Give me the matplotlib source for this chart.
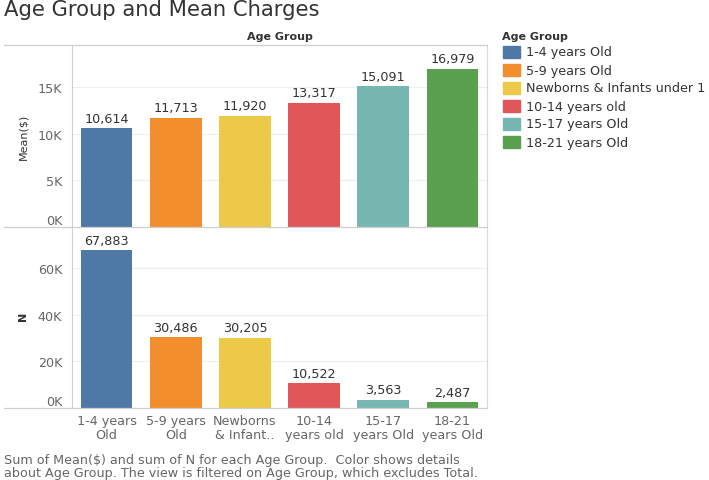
import matplotlib.pyplot as plt
from matplotlib.lines import Line2D
import numpy as np

plt.rcParams["font.family"] = ["DejaVu Sans"]

# data
groups = [
    "1-4 years Old",
    "5-9 years Old",
    "Newborns & Infants under 1",
    "10-14 years old",
    "15-17 years Old",
    "18-21 years Old",
]
tick_labels = [
    "1-4 years\nOld",
    "5-9 years\nOld",
    "Newborns\n& Infant..",
    "10-14\nyears old",
    "15-17\nyears Old",
    "18-21\nyears Old",
]
mean_charges = [10614, 11713, 11920, 13317, 15091, 16979]
n_counts = [67883, 30486, 30205, 10522, 3563, 2487]
colors = ["#4e79a7", "#f28e2b", "#edc948", "#e15759", "#76b7b2", "#59a14f"]

W, H = 709, 481
fig = plt.figure(figsize=(W / 100, H / 100), dpi=100)


def fx(px):
    return px / W


def fy(py):
    return 1 - py / H


TXT = "#333333"
AX = "#666666"
FS = 9.2

ax1 = fig.add_axes([fx(72), fy(228), fx(487) - fx(72), fy(46) - fy(228)])
ax2 = fig.add_axes([fx(72), fy(409), fx(487) - fx(72), fy(228) - fy(409)])

x = np.arange(len(groups))


def setup(ax, vals, ymax, ticks, ticklabels, fmt_pad):
    ax.bar(x, vals, width=0.745, color=colors, zorder=2)
    ax.set_xlim(-0.5, len(groups) - 0.5)
    ax.set_ylim(0, ymax)
    ax.set_yticks(ticks)
    ax.set_yticklabels(ticklabels, color=AX, fontsize=FS)
    ax.get_yticklabels()[0].set_va("bottom")
    ax.tick_params(axis="y", length=0, pad=7)
    ax.grid(axis="y", color="#ededed", linewidth=0.8, zorder=0)
    for s in ["top", "bottom"]:
        ax.spines[s].set_visible(False)
    ax.spines["left"].set_color("#cfcfcf")
    ax.spines["right"].set_color("#d9d9d9")
    for xi, v in zip(x, vals):
        ax.text(xi, v + fmt_pad, f"{v:,}", ha="center", va="bottom",
                fontsize=FS, color=TXT)


setup(ax1, mean_charges, 19500, [0, 5000, 10000, 15000],
      ["0K", "5K", "10K", "15K"], 350)
setup(ax2, n_counts, 77700, [0, 20000, 40000, 60000],
      ["0K", "20K", "40K", "60K"], 1400)

ax1.set_xticks([])
ax2.set_xticks(x)
ax2.set_xticklabels(tick_labels, color=AX, fontsize=FS, linespacing=1.15)
ax2.tick_params(axis="x", length=0, pad=4)

# frame lines across the full view
for py in [46, 228, 409]:
    fig.add_artist(Line2D([fx(4), fx(487)], [fy(py), fy(py)],
                          color="#cfcfcf", linewidth=0.9))

fig.text(fx(4), fy(10), "Age Group and Mean Charges", fontsize=15.2,
         color=TXT, ha="left", va="center")
fig.text(fx(280), fy(37), "Age Group", fontsize=8, fontweight="bold",
         color=TXT, ha="center", va="center")
fig.text(fx(23), fy(137), "Mean($)", fontsize=8, color=TXT, rotation=90,
         ha="center", va="center")
fig.text(fx(23), fy(316), "N", fontsize=8, fontweight="bold", color=TXT,
         rotation=90, ha="center", va="center")

# legend
fig.text(fx(502), fy(37), "Age Group", fontsize=8, fontweight="bold",
         color=TXT, ha="left", va="center")
for i, (g, c) in enumerate(zip(groups, colors)):
    yc = 53 + 18 * i
    fig.add_artist(plt.Rectangle((fx(503), fy(yc + 6)), fx(17), fy(yc - 6) - fy(yc + 6),
                                 color=c, transform=fig.transFigure))
    fig.text(fx(526), fy(yc), g, fontsize=FS, color=TXT, ha="left", va="center")

fig.text(fx(4), fy(461),
         "Sum of Mean($) and sum of N for each Age Group.  Color shows details",
         fontsize=FS, color=AX, ha="left", va="center")
fig.text(fx(4), fy(474),
         "about Age Group. The view is filtered on Age Group, which excludes Total.",
         fontsize=FS, color=AX, ha="left", va="center")

fig.savefig("out.png", dpi=100)
